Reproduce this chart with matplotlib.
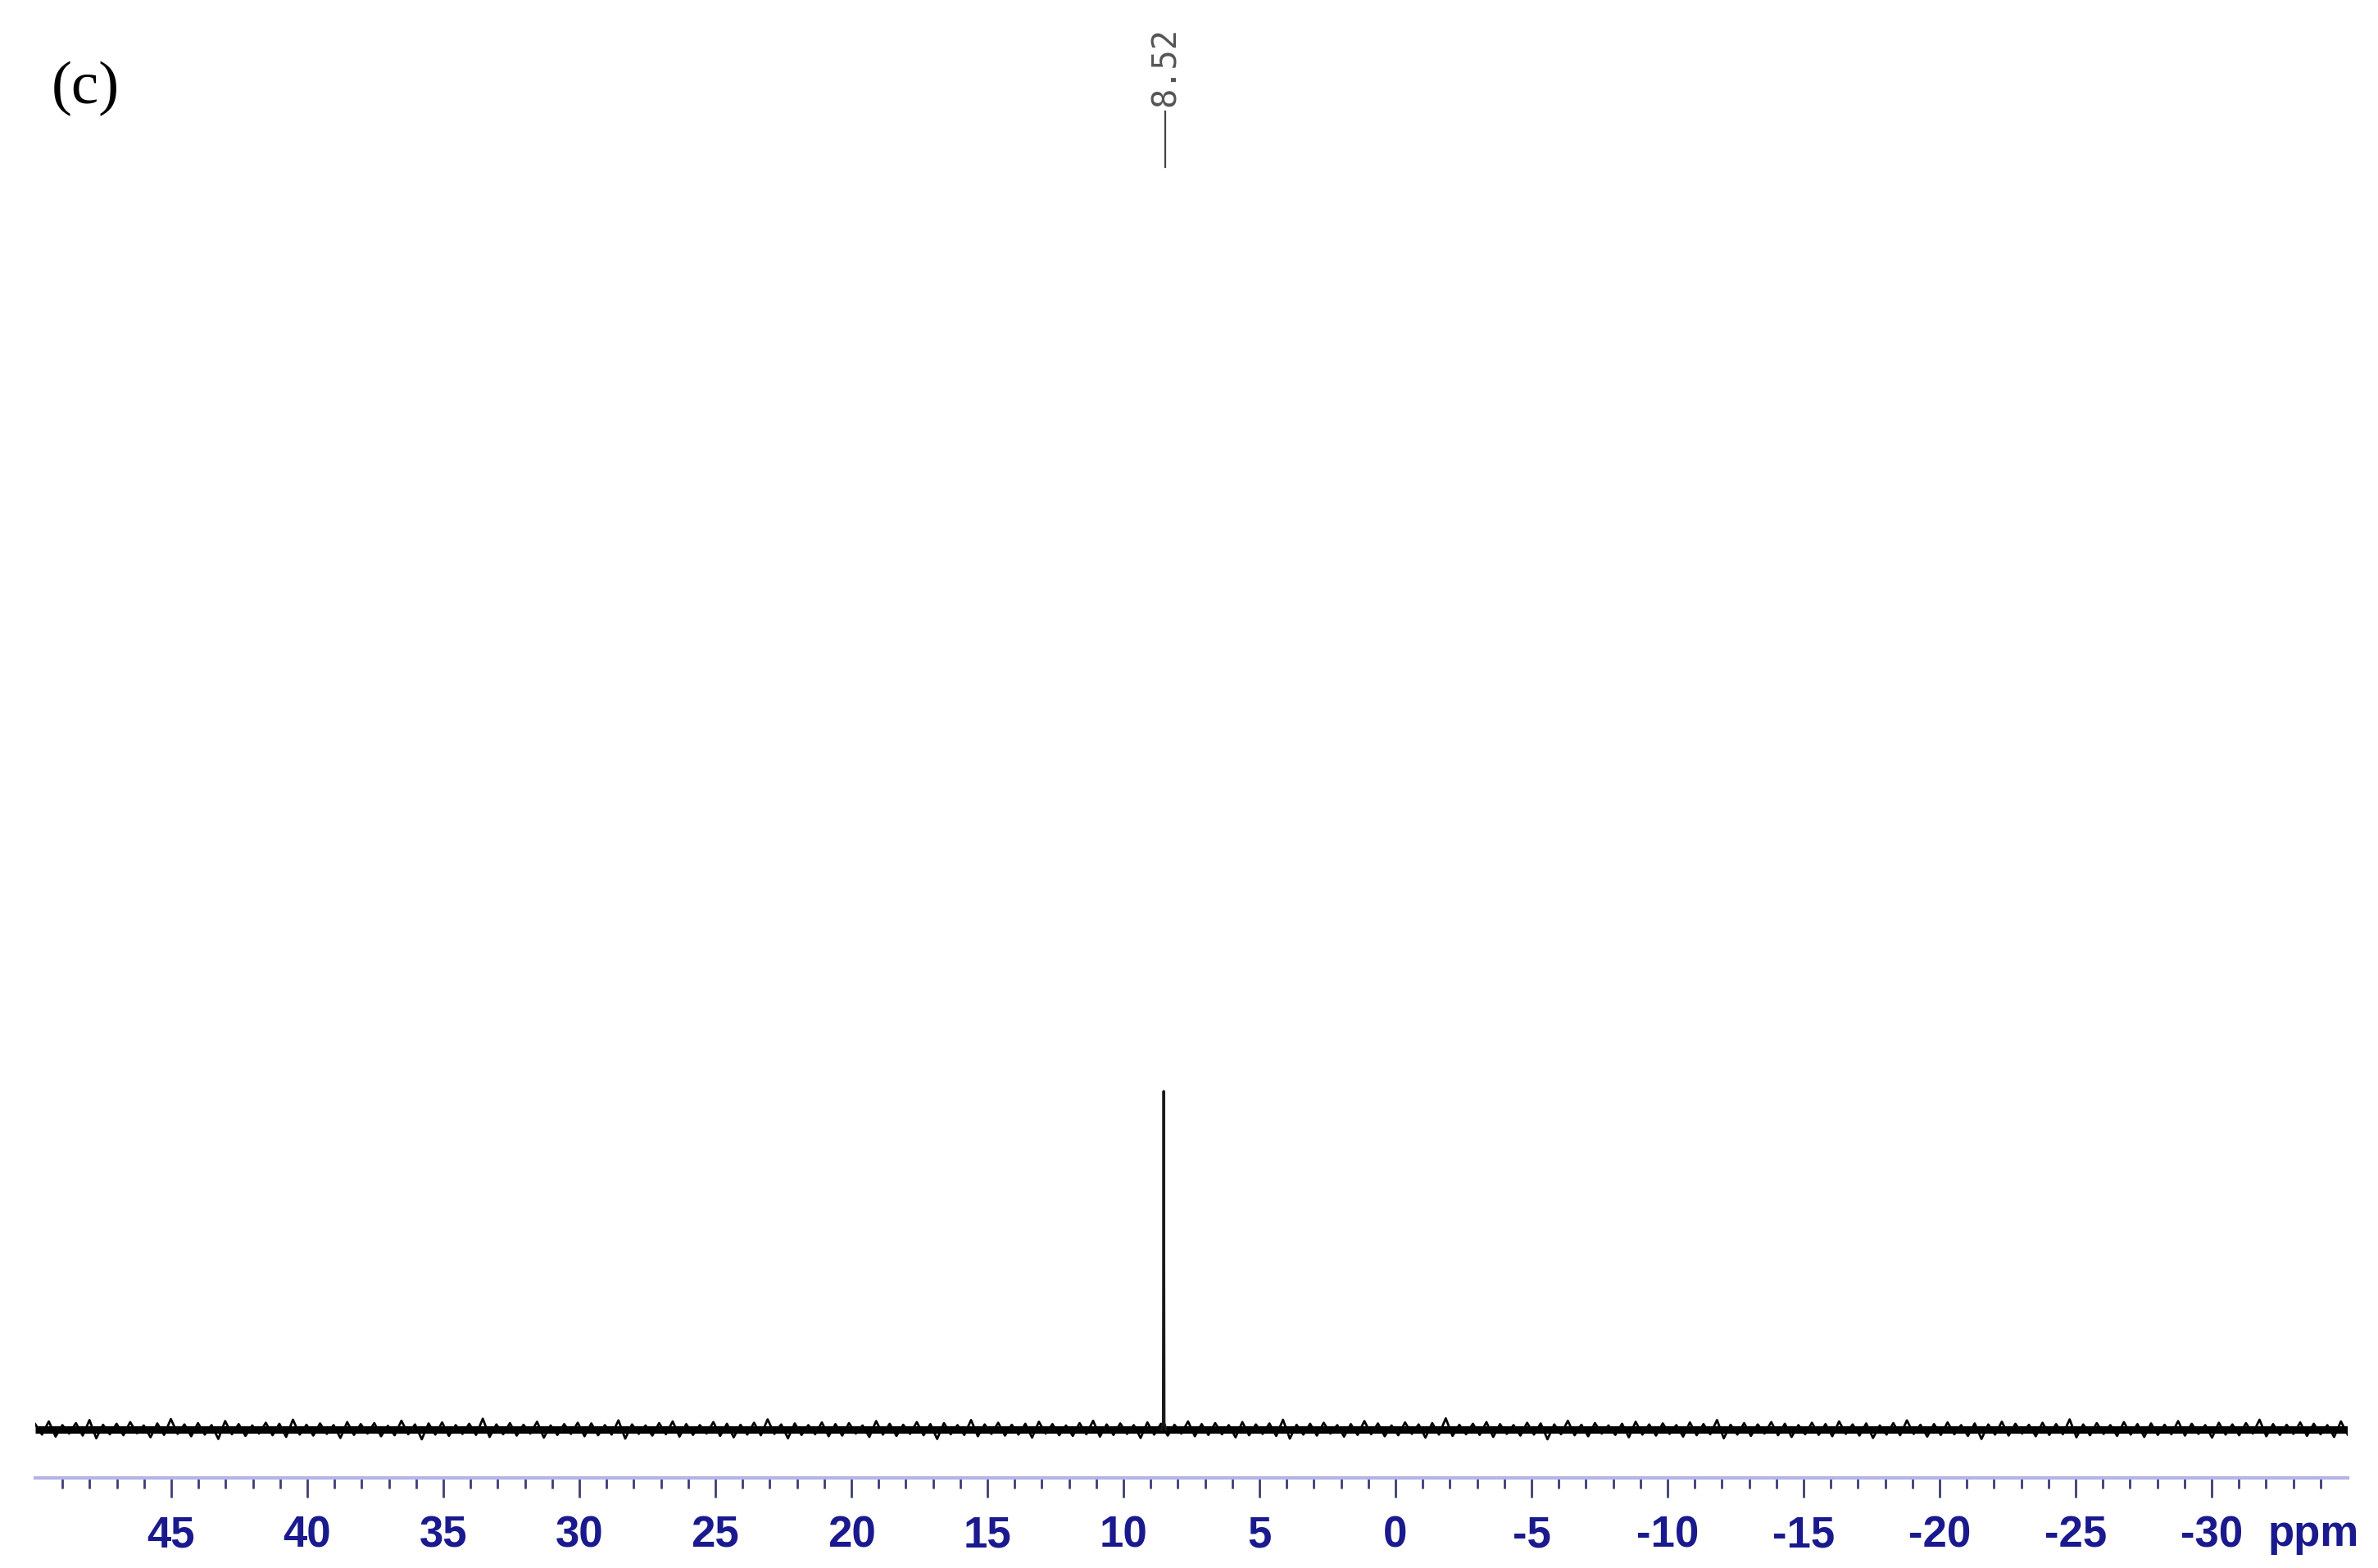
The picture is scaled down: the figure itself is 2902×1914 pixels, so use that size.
import numpy as np
import matplotlib
matplotlib.use("Agg")
import matplotlib.pyplot as plt
import matplotlib.transforms as mtransforms

# ----------- DATA ----------- #
ppm_range = [50, -35]
major_ticks = [45, 40, 35, 30, 25, 20, 15, 10, 5, 0, -5, -10, -15, -20, -25, -30]
tick_labels = ['45', '40', '35', '30', '25', '20', '15', '10', '5', '0',
               '-5', '-10', '-15', '-20', '-25', '-30']

# single resonance (relative intensity)
peak_label = '8.52'
peak_ppm = [8.60, 8.54, 8.52, 8.50, 8.44]
peak_int = [0, 2, 100, 2, 0]

# baseline noise extremes, upper / lower, every 0.5 ppm from 50 to -35
noise_hi = [1.6, 2.4, 1.3, 1.9, 2.8, 1.4, 1.7, 2.2, 1.2, 1.8,
            3.1, 1.5, 1.9, 1.3, 2.5, 1.6, 1.2, 2.0, 1.7, 2.9,
            1.4, 1.8, 1.3, 2.2, 1.6, 1.9, 1.1, 2.6, 1.5, 1.8,
            2.1, 1.3, 1.7, 3.2, 1.5, 1.9, 1.4, 2.3, 1.2, 1.6,
            2.0, 1.8, 1.3, 2.7, 1.5, 1.2, 1.9, 2.4, 1.6, 1.3,
            2.2, 1.7, 1.4, 2.0, 3.0, 1.5, 1.8, 1.3, 2.1, 1.6,
            1.9, 1.2, 2.5, 1.7, 1.4, 2.2, 1.6, 1.9, 1.3, 2.8,
            1.5, 2.0, 1.4, 1.7, 2.3, 1.6, 1.2, 1.9, 2.6, 1.5,
            1.8, 1.3, 2.1, 1.7, 1.4,
            2.4, 1.6, 1.9, 1.3, 2.2, 1.5, 1.8, 2.9, 1.4, 1.7,
            2.0, 1.3, 1.6, 2.5, 1.8, 1.2, 2.1, 1.5, 1.9, 3.3,
            1.4, 1.7, 2.2, 1.6, 1.3, 2.0, 1.8, 1.5, 2.6, 1.4,
            1.9, 1.2, 1.7, 2.3, 1.5, 1.8, 1.3, 2.1, 1.6, 2.8,
            1.4, 1.9, 1.5, 2.2, 1.7, 1.3, 2.0, 1.6, 2.4, 1.5,
            1.8, 1.2, 1.9, 2.7, 1.4, 1.6, 2.1, 1.3, 1.8, 1.5,
            2.3, 1.7, 1.4, 2.0, 1.6, 3.0, 1.5, 1.9, 1.3, 2.2,
            1.6, 1.8, 1.4, 2.5, 1.7, 1.3, 2.0, 1.5, 1.9, 2.9,
            1.6, 1.4, 2.1, 1.7, 1.3, 2.4]
noise_lo = [-1.5, -2.1, -1.2, -1.8, -2.6, -1.4, -1.7, -1.1, -2.3, -1.6,
            -1.3, -2.0, -1.5, -2.8, -1.4, -1.9, -1.2, -1.7, -2.2, -1.5,
            -1.8, -1.3, -2.5, -1.6, -1.2, -2.0, -1.7, -1.4, -2.9, -1.5,
            -1.9, -1.3, -1.6, -2.2, -1.4, -1.8, -1.2, -2.4, -1.6, -1.3,
            -2.0, -1.7, -1.5, -2.7, -1.3, -1.8, -1.4, -2.1, -1.6, -1.2,
            -1.9, -2.3, -1.5, -1.7, -1.3, -2.6, -1.6, -1.4, -2.0, -1.8,
            -1.2, -2.2, -1.5, -1.9, -1.3, -1.7, -2.8, -1.4, -1.6, -2.0,
            -1.3, -1.8, -1.5, -2.4, -1.2, -1.7, -1.9, -1.4, -2.1, -1.6,
            -1.3, -2.5, -1.5, -1.8, -1.2,
            -2.0, -1.6, -1.4, -2.3, -1.7, -1.3, -1.9, -2.7, -1.5, -1.8,
            -1.2, -2.1, -1.6, -1.4, -2.0, -1.7, -1.3, -2.4, -1.5, -1.9,
            -1.4, -1.6, -2.2, -1.3, -1.8, -1.5, -2.9, -1.4, -1.7, -2.0,
            -1.2, -1.6, -2.3, -1.5, -1.8, -1.3, -2.1, -1.7, -1.4, -2.6,
            -1.5, -1.9, -1.2, -1.7, -2.2, -1.4, -1.6, -2.0, -1.3, -1.8,
            -2.5, -1.5, -1.7, -1.3, -2.1, -1.6, -1.4, -1.9, -2.8, -1.5,
            -1.8, -1.2, -2.0, -1.6, -1.4, -2.3, -1.7, -1.3, -1.9, -1.5,
            -2.2, -1.6, -1.4, -1.8, -1.3, -2.4, -1.5, -1.7, -1.2, -2.0,
            -1.6, -1.3, -1.9, -1.4, -2.2, -1.5]

# ----------- FIGURE ----------- #
W, H = 2902, 1915
fig = plt.figure(figsize=(W / 100, H / 100), dpi=100)
ax = fig.add_axes([43 / W, 110 / H, 2822 / W, 1805 / H])

# noise trace: alternate between the upper and lower extremes
n = min(len(noise_hi), len(noise_lo))
trace = np.ravel(np.column_stack([noise_hi[:n], noise_lo[:n]]))
x_tr = np.linspace(ppm_range[0], ppm_range[1], len(trace))
ax.plot(ppm_range, [0, 0], color='black', lw=6.5, solid_capstyle='butt')
ax.plot(x_tr, trace, color='black', lw=2.0)
ax.plot(peak_ppm, peak_int, color='#1a1a1a', lw=2.2)

ax.set_xlim(ppm_range)
ax.set_ylim(-14.3, 422.8)

# axis styling: only a lavender bottom line with dark ticks
for side in ['top', 'left', 'right']:
    ax.spines[side].set_visible(False)
ax.spines['bottom'].set_color('#b4b4e6')
ax.spines['bottom'].set_linewidth(3)
ax.set_yticks([])
ax.set_xticks(major_ticks)
ax.set_xticklabels(tick_labels)
ax.set_xticks(np.arange(-34, 50, 1), minor=True)
ax.tick_params(axis='x', which='major', direction='out', length=17, width=2,
               color='#3c3c78', pad=15, labelsize=38, labelcolor='#1a1a8e')
ax.tick_params(axis='x', which='minor', direction='out', length=9, width=2,
               color='#3c3c78')
for lab in ax.get_xticklabels():
    lab.set_fontfamily(['Liberation Sans Narrow', 'Liberation Sans'])
    lab.set_fontweight('bold')

fig.text(2823 / W, 1 - 1873 / H, 'ppm', ha='center', va='center',
         fontsize=38, color='#1a1a8e', fontweight='bold',
         family=['Liberation Sans Narrow', 'Liberation Sans'])

# peak label
trans = mtransforms.blended_transform_factory(ax.transData, ax.transAxes)
ax.plot([8.45, 8.45], [0.8864, 0.9241], transform=trans, color='#444444',
        lw=1.6, clip_on=False)
ax.text(8.45, 0.928, peak_label, transform=trans, rotation=90,
        ha='center', va='bottom', fontsize=29, color='#555555',
        family='DejaVu Sans Mono')

fig.text(63 / W, 1 - 108 / H, '(c)', ha='left', va='center',
         fontsize=54, family='Liberation Serif', color='black')

plt.savefig('out.png', dpi=100)
